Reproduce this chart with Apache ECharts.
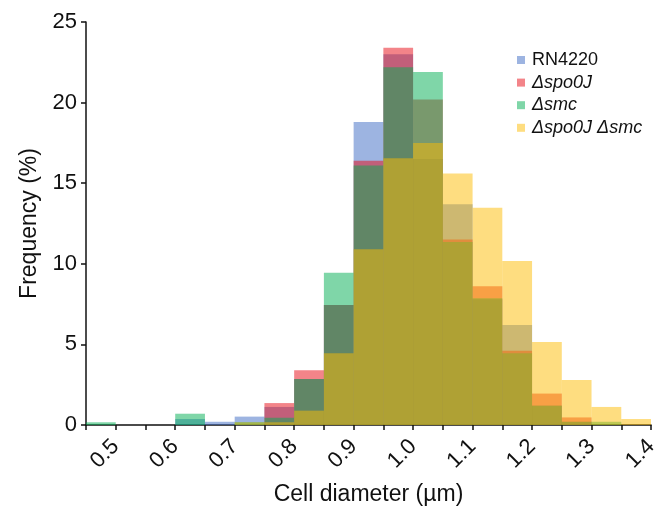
<!DOCTYPE html>
<html>
<head>
<meta charset="utf-8">
<script src="https://cdn.jsdelivr.net/npm/echarts@6/dist/echarts.min.js"></script>
<style>
html,body{margin:0;padding:0;background:#fff;}
#c{width:660px;height:509px;}
</style>
</head>
<body>
<div id="c"></div>
<script>
// Histogram bin edges (µm)
var binEdges = [0.45,0.50,0.55,0.60,0.65,0.70,0.75,0.80,0.85,0.90,0.95,1.00,1.05,1.10,1.15,1.20,1.25,1.30,1.35,1.40];
var seriesNames = ['RN4220','Δspo0J','Δsmc','Δspo0J Δsmc'];
// Frequency (%) per bin
var rn4220   = [0,0,0,0.37,0.2,0.52,1.12,2.85,7.45,18.8,23.0,16.5,13.7,7.8,6.2,1.2,0.2,0,0];
var spo0J    = [0,0,0,0,0,0,1.36,3.4,7.45,16.4,23.4,20.2,11.5,8.6,4.6,1.95,0.47,0,0];
var smc      = [0.17,0,0,0.7,0,0.17,0.45,2.85,9.45,16.1,22.2,21.9,11.35,7.86,4.45,1.2,0.2,0.2,0];
var spo0Jsmc = [0,0,0,0,0,0.17,0.17,0.89,4.45,10.9,16.55,17.5,15.6,13.48,10.17,5.15,2.79,1.12,0.37];
var xTickLabels = ['0.5','0.6','0.7','0.8','0.9','1.0','1.1','1.2','1.3','1.4'];

var colors = ['rgba(60,105,195,0.5)','rgba(232,10,20,0.5)','rgba(0,173,82,0.5)','rgba(253,187,2,0.5)'];
var allValues = [rn4220, spo0J, smc, spo0Jsmc];
var FONT = 'Liberation Sans';

function makeData(vals){
  var d = [];
  for (var i = 0; i < vals.length; i++) {
    d.push([binEdges[i], binEdges[i+1], vals[i]]);
  }
  return d;
}

var series = allValues.map(function(vals, k){
  return {
    name: seriesNames[k],
    type: 'custom',
    itemStyle: {color: colors[k]},
    encode: {x: [0,1], y: 2},
    data: makeData(vals),
    renderItem: function(params, api){
      var x0 = api.value(0), x1 = api.value(1), y = api.value(2);
      if (!(y > 0)) return null;
      var p0 = api.coord([x0, y]);
      var p1 = api.coord([x1, 0]);
      return {
        type: 'rect',
        shape: {x: p0[0], y: p0[1], width: p1[0]-p0[0], height: p1[1]-p0[1]},
        style: {fill: colors[k]}
      };
    }
  };
});

var chart = echarts.init(document.getElementById('c'));
chart.setOption({
  animation: false,
  backgroundColor: '#fff',
  textStyle: {fontFamily: FONT},
  grid: {left: 86, right: 9, top: 22, bottom: 84, containLabel: false, outerBoundsMode: 'none'},
  legend: {
    orient: 'vertical',
    left: 512,
    top: 46,
    itemWidth: 8,
    itemHeight: 8,
    itemGap: 4.6,
    icon: 'rect',
    textStyle: {fontSize: 18, color: '#111', fontFamily: FONT, lineHeight: 18, padding: [0,0,0,2]},
    data: seriesNames.map(function(n, k){
      return k === 0 ? {name: n} : {name: n, textStyle: {fontStyle: 'italic'}};
    })
  },
  xAxis: {
    type: 'value',
    min: 0.45,
    max: 1.4,
    interval: 0.05,
    name: 'Cell diameter (µm)',
    nameLocation: 'middle',
    nameGap: 58,
    nameTextStyle: {fontSize: 23, color: '#111', fontFamily: FONT},
    splitLine: {show: false},
    axisLine: {lineStyle: {color: '#111', width: 1.5}},
    axisTick: {show: true, length: 5, lineStyle: {color: '#111', width: 1.5}},
    axisLabel: {
      rotate: 45,
      fontSize: 22,
      color: '#111',
      margin: 18,
      fontFamily: FONT,
      showMinLabel: true,
      showMaxLabel: true,
      formatter: function(v){
        var t = Math.round(v*100);
        if (t % 10 !== 0) return '';
        var s = (t/100).toFixed(1);
        return xTickLabels.indexOf(s) >= 0 ? s : '';
      }
    }
  },
  yAxis: {
    type: 'value',
    min: 0,
    max: 25,
    interval: 5,
    name: 'Frequency (%)',
    nameLocation: 'middle',
    nameGap: 44,
    nameTextStyle: {fontSize: 23, color: '#111', fontFamily: FONT},
    splitLine: {show: false},
    axisLine: {show: true, lineStyle: {color: '#111', width: 1.5}},
    axisTick: {show: true, length: 5, lineStyle: {color: '#111', width: 1.5}},
    axisLabel: {fontSize: 22, color: '#111', margin: 9, fontFamily: FONT}
  },
  series: series
});
</script>
</body>
</html>
